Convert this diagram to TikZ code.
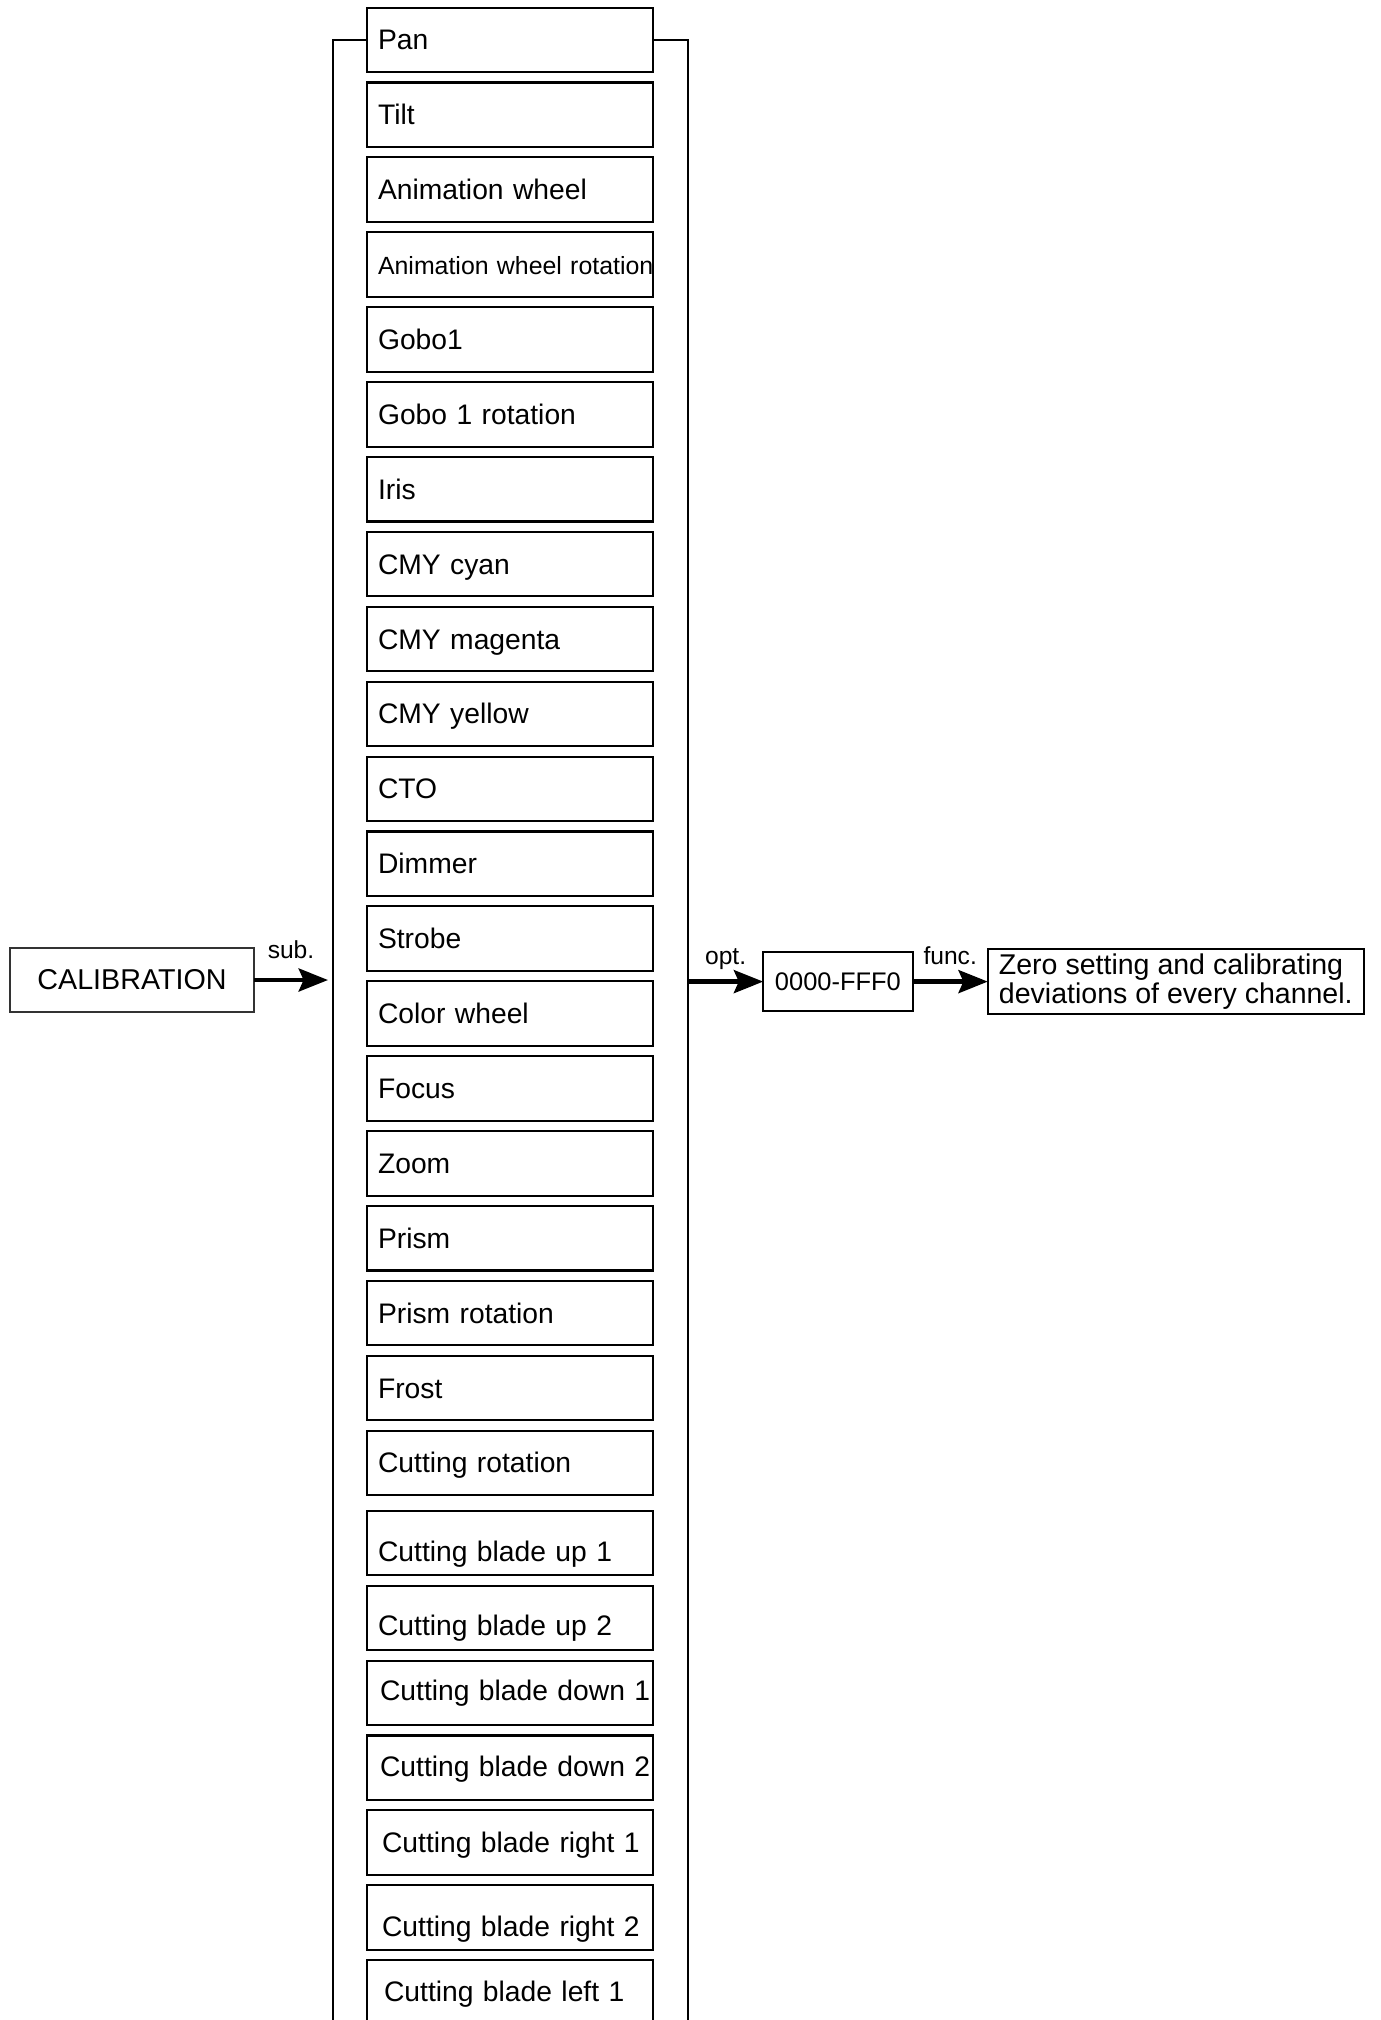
\documentclass[tikz,border=0pt]{standalone}
\usepackage{fontspec}
\setmainfont{Liberation Sans}
\usetikzlibrary{positioning, arrows.meta}

\begin{document}
\begin{tikzpicture}[
  node distance=0.26cm,
  chan/.style={draw, line width=1.5pt, outer sep=0pt, text width=6.61cm, inner xsep=0.265cm, inner ysep=0.1cm, align=left, minimum height=1.6125cm, text height=0.5cm, text depth=0pt, font=\fontsize{20.1}{24}\selectfont},
  textlow/.style={text height=0.9cm},
  texthigh/.style={text depth=0.12cm},
  mainbox/.style={draw=black!80, line width=1.2pt, outer sep=0pt, minimum width=6.1cm, minimum height=1.6cm, font=\fontsize{20.4}{24}\selectfont},
  valbox/.style={draw, line width=1.5pt, outer sep=0pt, minimum width=3.735cm, minimum height=1.4675cm, font=\fontsize{18.1}{22}\selectfont},
  descbox/.style={draw, line width=1.5pt, outer sep=0pt, minimum width=9.4cm, minimum height=1.625cm, inner xsep=0.2cm, align=left, font=\fontsize{20.3}{21}\selectfont},
  bracket/.style={line width=1.5pt},
  flow/.style={line width=3.5pt, -{Stealth[length=0.73cm, width=0.57cm, inset=0.12cm]}},
  lbl/.style={inner sep=0pt, text depth=0pt, font=\fontsize{17.5}{20}\selectfont}
]
\useasboundingbox (0,0) rectangle (34.525,-50.5);
\clip (0,0) rectangle (34.525,-50.5);
\fill[white] (0,0) rectangle (34.525,-50.5);

% channel list
\node[chan] (pan) at (12.756,-0.995) {Pan};
\node[chan, below=of pan] (tilt) {Tilt};
\node[chan, below=of tilt] (anim) {Animation wheel};
\node[chan, below=of anim, font=\fontsize{17.7}{20}\selectfont] (animrot) {\mbox{Animation wheel rotation}};
\node[chan, below=of animrot] (gobo) {Gobo1};
\node[chan, below=of gobo] (goborot) {Gobo 1 rotation};
\node[chan, below=of goborot] (iris) {Iris};
\node[chan, below=of iris] (cyan) {CMY cyan};
\node[chan, below=of cyan] (magenta) {CMY magenta};
\node[chan, below=of magenta] (yellow) {CMY yellow};
\node[chan, below=of yellow] (cto) {CTO};
\node[chan, below=of cto] (dimmer) {Dimmer};
\node[chan, below=of dimmer] (strobe) {Strobe};
\node[chan, below=of strobe] (colwheel) {Color wheel};
\node[chan, below=of colwheel] (focus) {Focus};
\node[chan, below=of focus] (zoom) {Zoom};
\node[chan, below=of zoom] (prism) {Prism};
\node[chan, below=of prism] (prismrot) {Prism rotation};
\node[chan, below=of prismrot] (frost) {Frost};
\node[chan, below=of frost] (cutrot) {Cutting rotation};
\node[chan, textlow, below=0.39cm of cutrot] (bladeupa) {Cutting blade up 1};
\node[chan, textlow, below=of bladeupa] (bladeupb) {Cutting blade up 2};
\node[chan, text depth=0.13cm, below=of bladeupb] (bladedowna) {\mbox{\hspace{0.05cm}Cutting blade down 1}};
\node[chan, text depth=0.08cm, below=of bladedowna] (bladedownb) {\mbox{\hspace{0.05cm}Cutting blade down 2}};
\node[chan, below=of bladedownb] (bladerighta) {\mbox{\hspace{0.1cm}Cutting blade right 1}};
\node[chan, text height=0.95cm, below=of bladerighta] (bladerightb) {\mbox{\hspace{0.1cm}Cutting blade right 2}};
\node[chan, text height=0.925cm, text depth=1.3cm, below=of bladerightb] (bladelefta) {\mbox{\hspace{0.15cm}Cutting blade left 1}};

% bracket round the list
\coordinate (lbot) at (8.318,-51);
\coordinate (rbot) at (17.2,-51);
\draw[bracket] (pan.west) -| (lbot);
\draw[bracket] (pan.east) -| (rbot);

% menu path
\node[mainbox] (calib) at (3.3,-24.5) {CALIBRATION};
\coordinate (subin) at (8.2,-24.5);
\coordinate (optout) at (17.2,-24.54);
\node[valbox, right=1.88cm of optout] (hex) {0000-FFF0};
\node[descbox, right=1.88cm of hex] (desc) {Zero setting and calibrating\\deviations of every channel.};

\draw[flow] (calib.east) -- node[lbl, above=0.47cm] {sub.} (subin);
\draw[flow] (optout) -- node[lbl, above=0.37cm] {opt.} (hex.west);
\draw[flow] (hex.east) -- node[lbl, above=0.37cm] {func.} (desc.west);
\end{tikzpicture}
\end{document}
